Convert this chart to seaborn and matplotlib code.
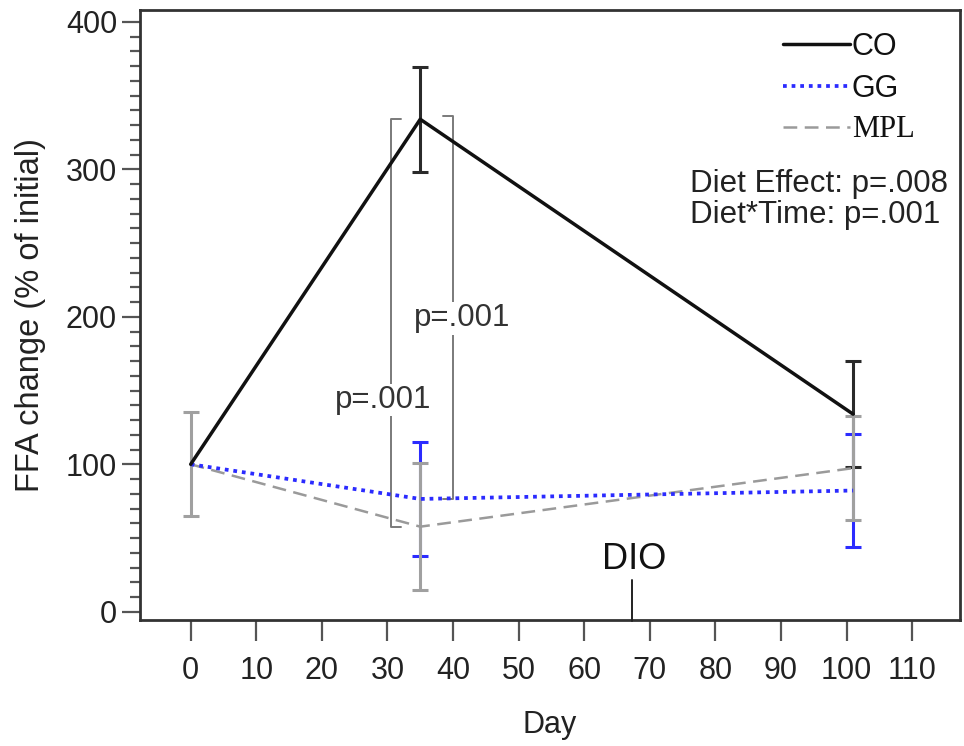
import numpy as np
import pandas as pd
import matplotlib
matplotlib.use("Agg")
import matplotlib.pyplot as plt
import seaborn as sns
from matplotlib.ticker import MultipleLocator
from matplotlib.lines import Line2D

# FFA change relative to the initial value, per diet group
days = [0, 35, 101]
co_mean = [100, 334, 134]
co_err = [0, 35.5, 35.8]
gg_mean = [100, 76.5, 82.2]
gg_err = [0, 38.8, 38.5]
mpl_mean = [100, 57.7, 97.4]
mpl_err = [35.4, 43.0, 35.4]

diets = ["CO", "GG", "MPL"]
x_ticks = list(range(0, 111, 10))
y_ticks = [0, 100, 200, 300, 400]
stats_text = ["Diet Effect: p=.008", "Diet*Time: p=.001"]
pair_p = ["p=.001", "p=.001"]
dio_day = 67.3

sns.set_theme(style="white")
plt.rcParams["font.family"] = ["Liberation Sans", "DejaVu Sans"]
FS = 22
FS_TXT = 22.5

fig = plt.figure(figsize=(9.64, 7.46), dpi=100)
ax = fig.add_axes([140 / 964, 126 / 746, 820 / 964, 610 / 746])

df = pd.DataFrame({
    "Day": days * 3,
    "FFA": co_mean + gg_mean + mpl_mean,
    "Diet": [d for d in diets for _ in days],
})

colors = {"CO": "#111111", "GG": "#2b2bff", "MPL": "#9a9a9a"}
styles = {
    "CO": dict(linestyle="-", linewidth=2.5),
    "GG": dict(linestyle=(0, (1.0, 1.3)), linewidth=2.7),
    "MPL": dict(linestyle=(0, (5.5, 3.0)), linewidth=1.8),
}
zs = {"CO": 5, "GG": 4.5, "MPL": 4}

# error bars: blue beneath, black, grey on top
def draw_err(mean, err, color, lw, z):
    m = np.array(mean, float)
    e = np.array(err, float)
    d = np.array(days, float)
    keep = e > 0
    ax.errorbar(d[keep], m[keep], yerr=e[keep], fmt="none", ecolor=color,
                elinewidth=lw, capsize=5.5, capthick=lw, zorder=z)

draw_err(gg_mean, gg_err, colors["GG"], 2.2, 2)
draw_err(co_mean, co_err, "#2a2a2a", 2.2, 2.5)
draw_err(mpl_mean, mpl_err, "#a0a0a0", 2.2, 3)

handles = []
for diet in diets:
    sub = df[df["Diet"] == diet]
    sns.lineplot(data=sub, x="Day", y="FFA", color=colors[diet], ax=ax,
                 zorder=zs[diet], legend=False, **styles[diet])
    handles.append(Line2D([], [], color=colors[diet], **styles[diet]))

# pairwise comparison brackets at day 35
br_color = "#7a7a7a"
ax.plot([32.1, 30.6, 30.6, 32.1], [co_mean[1], co_mean[1], mpl_mean[1], mpl_mean[1]],
        color=br_color, lw=1.4, zorder=3.5)
ax.plot([38.5, 40.0, 40.0, 38.5], [co_mean[1] + 2, co_mean[1] + 2, gg_mean[1], gg_mean[1]],
        color=br_color, lw=1.4, zorder=3.5)
bbox = dict(facecolor="white", edgecolor="none", pad=1.0)
ax.text(29.3, 143.6, pair_p[0], fontsize=FS_TXT, color="#333333", ha="center", va="center",
        bbox=bbox, zorder=6)
ax.text(41.4, 199, pair_p[1], fontsize=FS_TXT, color="#333333", ha="center", va="center",
        bbox=bbox, zorder=6)

# DIO marker
ax.plot([dio_day, dio_day], [21.4, -6], color="#222222", lw=1.4, zorder=3, clip_on=False)
ax.text(dio_day + 0.3, 28.8, "DIO", fontsize=26, color="#111111", ha="center", va="baseline")

# statistics
ax.text(76.1, 290.2, stats_text[0], fontsize=FS_TXT, color="#222222", ha="left", va="center")
ax.text(76.1, 269.1, stats_text[1], fontsize=FS_TXT, color="#222222", ha="left", va="center")

leg = ax.legend(handles, diets, loc="upper left", bbox_to_anchor=((783 - 140) / 820, (620 - 32) / 610),
                frameon=False, fontsize=FS, handlelength=2.2, handletextpad=0.05,
                labelspacing=0.38, borderpad=0, borderaxespad=0)
leg.get_texts()[2].set_fontfamily(["Liberation Serif", "DejaVu Serif"])
for t in leg.get_texts():
    t.set_color("#111111")

ax.set_xlim(-7.73, 117.3)
ax.set_ylim(-5.6, 408.1)
ax.set_xticks(x_ticks)
ax.set_yticks(y_ticks)
ax.yaxis.set_minor_locator(MultipleLocator(10))
ax.tick_params(axis="y", which="major", direction="out", length=13, width=1.6,
               color="#555555", pad=3.5, labelsize=FS, labelcolor="#222222", left=True)
ax.tick_params(axis="y", which="minor", direction="out", length=7, width=1.6,
               color="#555555", left=True)
ax.tick_params(axis="x", which="major", direction="out", length=15, width=1.6,
               color="#555555", pad=11, labelsize=FS, labelcolor="#222222", bottom=True)

for s in ax.spines.values():
    s.set_linewidth(2.0)
    s.set_color("#333333")

ax.set_xlabel("Day", fontsize=FS, color="#222222", labelpad=17)
ax.set_ylabel("FFA change (% of initial)", fontsize=23.5, color="#222222", labelpad=14)

fig.savefig("out.png", dpi=100, facecolor="white")
